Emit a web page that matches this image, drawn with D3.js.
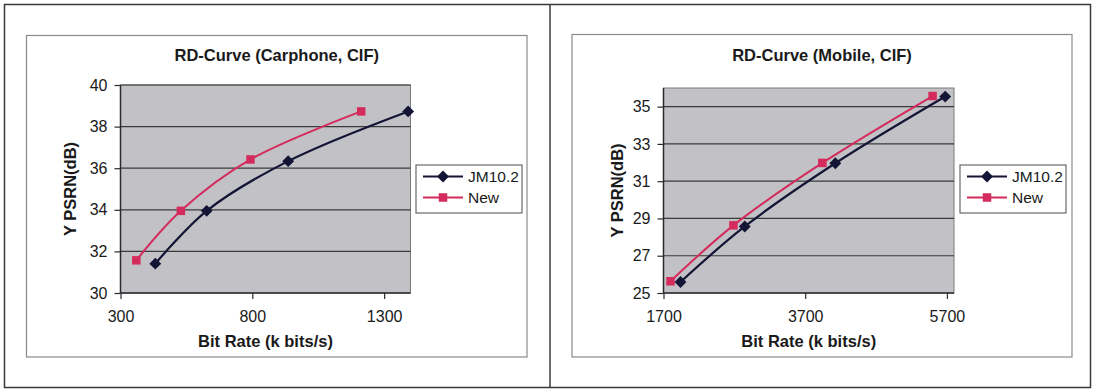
<!DOCTYPE html>
<html>
<head>
<meta charset="utf-8">
<script src="https://cdn.jsdelivr.net/npm/d3@7"></script>
<style>
  html, body { margin: 0; padding: 0; background: #fff; }
  svg { display: block; }
  text { font-family: "Liberation Sans", Arial, sans-serif; fill: #1a1a1a; }
</style>
</head>
<body>
<svg id="chart" width="1094" height="390"></svg>
<script>
// ---------- data ----------
const seriesNames = ["JM10.2", "New"];

const carphoneTitle = "RD-Curve (Carphone, CIF)";
const carphoneRateJM  = [432, 627, 936, 1391];
const carphonePsnrJM  = [31.41, 33.95, 36.34, 38.73];
const carphoneRateNew = [360, 529, 793, 1213];
const carphonePsnrNew = [31.57, 33.95, 36.42, 38.73];
const carphoneXTicks  = [300, 800, 1300];
const carphoneYTicks  = [30, 32, 34, 36, 38, 40];
const carphoneXDomain = [300, 1400];
const carphoneYDomain = [30, 40];

const mobileTitle = "RD-Curve (Mobile, CIF)";
const mobileRateJM  = [1940, 2847, 4125, 5676];
const mobilePsnrJM  = [25.59, 28.57, 31.96, 35.54];
const mobileRateNew = [1799, 2687, 3942, 5498];
const mobilePsnrNew = [25.63, 28.63, 31.98, 35.57];
const mobileXTicks  = [1700, 3700, 5700];
const mobileYTicks  = [25, 27, 29, 31, 33, 35];
const mobileXDomain = [1700, 5800];
const mobileYDomain = [25, 36];

const xTitle = "Bit Rate (k bits/s)";
const yTitle = "Y PSRN(dB)";

// ---------- styles ----------
const colJM = "#141436";
const colNew = "#d42a5c";
const plotFill = "#c2c2c6";
const gridCol = "#3a3a3a";

const svg = d3.select("#chart");

// outer frame
const frame = svg.append("g");
frame.append("rect").attr("x", 4.5).attr("y", 4.5).attr("width", 1086).attr("height", 383)
  .attr("fill", "none").attr("stroke", "#3a3a3a").attr("stroke-width", 1.5);
frame.append("line").attr("x1", 550).attr("x2", 550).attr("y1", 4.5).attr("y2", 387.5)
  .attr("stroke", "#3a3a3a").attr("stroke-width", 1.5);

function drawChart(cfg) {
  const g = svg.append("g");
  // chart area box
  g.append("rect").attr("x", cfg.box[0]).attr("y", cfg.box[1])
    .attr("width", cfg.box[2] - cfg.box[0]).attr("height", cfg.box[3] - cfg.box[1])
    .attr("fill", "#fff").attr("stroke", "#8a8a8a").attr("stroke-width", 1.2);

  const x = d3.scaleLinear().domain(cfg.xDomain).range([cfg.plot[0], cfg.plot[2]]);
  const y = d3.scaleLinear().domain(cfg.yDomain).range([cfg.plot[3], cfg.plot[1]]);

  // plot area
  g.append("rect").attr("x", cfg.plot[0]).attr("y", cfg.plot[1])
    .attr("width", cfg.plot[2] - cfg.plot[0]).attr("height", cfg.plot[3] - cfg.plot[1])
    .attr("fill", plotFill).attr("stroke", "#7a7a7a").attr("stroke-width", 1);

  // gridlines
  g.append("g").selectAll("line").data(cfg.yTicks.filter(v => v > cfg.yDomain[0]))
    .join("line")
    .attr("x1", cfg.plot[0]).attr("x2", cfg.plot[2])
    .attr("y1", d => y(d)).attr("y2", d => y(d))
    .attr("stroke", gridCol).attr("stroke-width", 1.2);

  // axes
  const fmt = d3.format("d");
  const yAxis = g.append("g").attr("transform", `translate(${cfg.plot[0]},0)`)
    .call(d3.axisLeft(y).tickValues(cfg.yTicks).tickFormat(fmt).tickSize(6).tickPadding(7));
  const xAxis = g.append("g").attr("transform", `translate(0,${cfg.plot[3]})`)
    .call(d3.axisBottom(x).tickValues(cfg.xTicks).tickFormat(fmt).tickSize(6).tickPadding(12));
  [yAxis, xAxis].forEach(a => {
    a.select(".domain").attr("stroke", "#2a2a2a").attr("stroke-width", 1.5);
    a.selectAll(".tick line").attr("stroke", "#2a2a2a").attr("stroke-width", 1.2);
    a.selectAll(".tick text").attr("font-size", 16).attr("fill", "#1a1a1a")
      .style("font-family", '"Liberation Sans", Arial, sans-serif');
  });
  xAxis.select(".domain").attr("d", `M${cfg.plot[0]},0H${cfg.plot[2]}`);
  yAxis.select(".domain").attr("d", `M0,${cfg.plot[3]}V${cfg.plot[1]}`);

  // lines
  const line = d3.line().x(d => x(d[0])).y(d => y(d[1])).curve(d3.curveCatmullRom.alpha(0.5));
  const jm = cfg.rateJM.map((r, i) => [r, cfg.psnrJM[i]]);
  const nw = cfg.rateNew.map((r, i) => [r, cfg.psnrNew[i]]);

  g.append("path").datum(nw).attr("d", line).attr("fill", "none")
    .attr("stroke", colNew).attr("stroke-width", 2);
  g.append("path").datum(jm).attr("d", line).attr("fill", "none")
    .attr("stroke", colJM).attr("stroke-width", 2.2);

  const diamond = d3.symbol().type(d3.symbolDiamond2).size(90);
  const square = d3.symbol().type(d3.symbolSquare).size(72);

  g.append("g").selectAll("path").data(nw).join("path")
    .attr("transform", d => `translate(${x(d[0])},${y(d[1])})`)
    .attr("d", square).attr("fill", colNew);
  g.append("g").selectAll("path").data(jm).join("path")
    .attr("transform", d => `translate(${x(d[0])},${y(d[1])})`)
    .attr("d", diamond).attr("fill", colJM);

  // titles
  g.append("text").attr("x", (cfg.box[0] + cfg.box[2]) / 2).attr("y", 61)
    .attr("text-anchor", "middle").attr("font-size", 16.5).attr("font-weight", "bold")
    .text(cfg.title);
  g.append("text").attr("x", (cfg.plot[0] + cfg.plot[2]) / 2).attr("y", 347)
    .attr("text-anchor", "middle").attr("font-size", 16.5).attr("font-weight", "bold")
    .text(xTitle);
  const ycx = cfg.yTitleX, ycy = (cfg.plot[1] + cfg.plot[3]) / 2;
  g.append("text").attr("transform", `translate(${ycx},${ycy}) rotate(-90)`)
    .attr("text-anchor", "middle").attr("dy", "0.36em").attr("font-size", 16.5).attr("font-weight", "bold")
    .text(yTitle);

  // legend
  const lg = g.append("g").attr("transform", `translate(${cfg.legend[0]},${cfg.legend[1]})`);
  lg.append("rect").attr("x", 0).attr("y", 0).attr("width", 106).attr("height", 48)
    .attr("fill", "#fff").attr("stroke", "#6a6a6a").attr("stroke-width", 1.2);
  const rows = [
    { name: seriesNames[0], col: colJM, sym: diamond, y: 11.5 },
    { name: seriesNames[1], col: colNew, sym: square, y: 32.5 }
  ];
  rows.forEach(r => {
    lg.append("line").attr("x1", 7).attr("x2", 47).attr("y1", r.y).attr("y2", r.y)
      .attr("stroke", r.col).attr("stroke-width", 2);
    lg.append("path").attr("transform", `translate(27,${r.y})`).attr("d", r.sym).attr("fill", r.col);
    lg.append("text").attr("x", 52).attr("y", r.y).attr("dy", "0.36em")
      .attr("font-size", 15.5).text(r.name);
  });
}

drawChart({
  title: carphoneTitle,
  box: [26.5, 35.5, 527, 357],
  plot: [120.5, 85, 410.5, 293],
  xDomain: carphoneXDomain, yDomain: carphoneYDomain,
  xTicks: carphoneXTicks, yTicks: carphoneYTicks,
  rateJM: carphoneRateJM, psnrJM: carphonePsnrJM,
  rateNew: carphoneRateNew, psnrNew: carphonePsnrNew,
  yTitleX: 70,
  legend: [416, 165]
});

drawChart({
  title: mobileTitle,
  box: [572, 34.5, 1072, 357],
  plot: [663.5, 88, 954, 293],
  xDomain: mobileXDomain, yDomain: mobileYDomain,
  xTicks: mobileXTicks, yTicks: mobileYTicks,
  rateJM: mobileRateJM, psnrJM: mobilePsnrJM,
  rateNew: mobileRateNew, psnrNew: mobilePsnrNew,
  yTitleX: 617,
  legend: [960, 165]
});
</script>
</body>
</html>
